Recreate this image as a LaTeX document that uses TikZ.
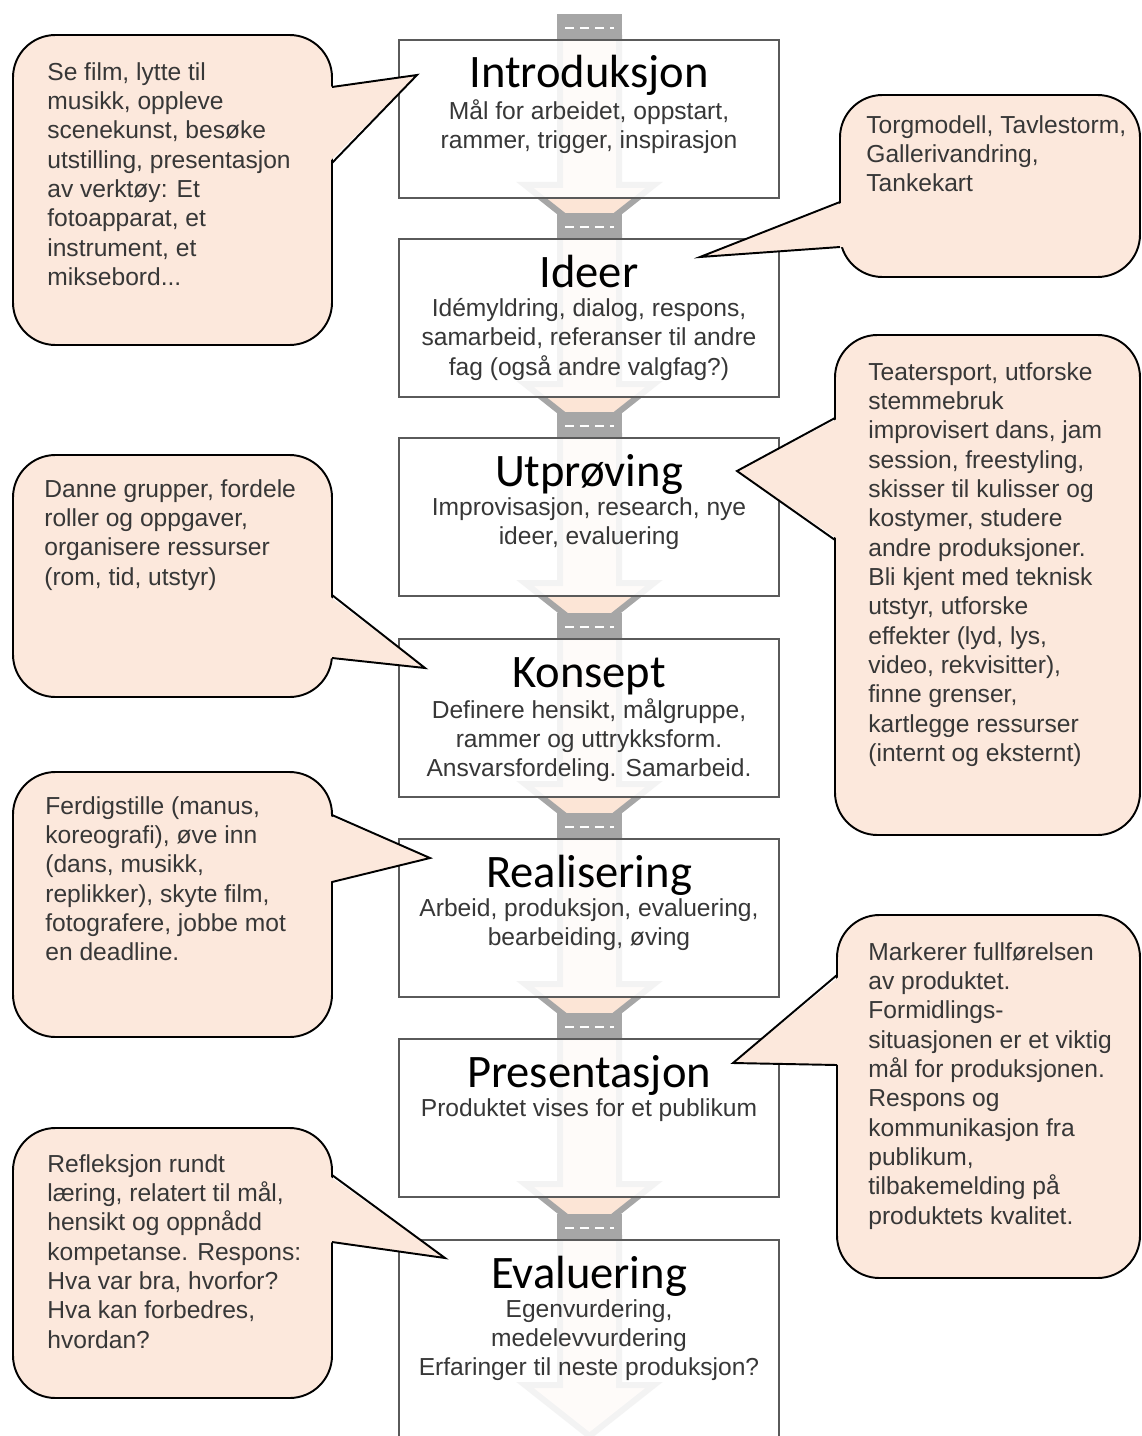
\documentclass[tikz,border=0pt]{standalone}
\usepackage{fontspec}
\setmainfont{Liberation Sans}
\newfontfamily\titlefont{Carlito}
\usetikzlibrary{positioning}
\definecolor{peach}{RGB}{252,229,214}
\definecolor{bubblefill}{RGB}{252,232,220}
\definecolor{shaftgray}{RGB}{166,166,166}
\definecolor{boxline}{RGB}{90,90,90}
\definecolor{bodytext}{RGB}{55,55,55}

\begin{document}
\begin{tikzpicture}[x=0.02cm,y=-0.02cm,
    stagebox/.style={draw=boxline, line width=0.8pt, fill=white, fill opacity=0.87, minimum width=7.6cm, minimum height=3.16cm, inner sep=0pt},
    stagetitle/.style={font=\titlefont\fontsize{26.5pt}{30pt}\selectfont, anchor=base, inner sep=0pt},
    stagetext/.style={font=\fontsize{14pt}{16.7pt}\selectfont, text=bodytext, align=center, anchor=north, inner sep=0pt},
    shaftarrow/.style={fill=peach, draw=shaftgray, line width=0.12cm, line join=miter},
    bubble/.style={draw=black, line width=1.1pt, fill=bubblefill, rounded corners=0.85cm},
    bubbleline/.style={draw=black, line width=1.1pt, line join=miter},
    bubbletext/.style={font=\fontsize{14pt}{16.7pt}\selectfont, text=bodytext, align=left, anchor=north west, inner sep=0pt}]
    \useasboundingbox (0,0) rectangle (1142,1436);

    % Background arrow
    \foreach \T in {40,239,438,639,839,1039,1240}
        \draw[shaftarrow] (560,\T-2) -- (619,\T-2) -- (619,\T+145) -- (654,\T+145) -- (589.5,\T+196) -- (525,\T+145) -- (560,\T+145) -- cycle;
    \foreach \T in {40,239,438,639,839,1039,1240} {
        \fill[shaftgray] (557,\T-26) rectangle (622,\T);
        \draw[white, line width=1.2pt, dash pattern=on 5pt off 3.5pt] (565,\T-12) -- (614,\T-12);
    }

    % Stages
    \node[stagebox] (intro) at (589,119) {};
    \node[stagetitle] (introtitle) at (589,88) {Introduksjon};
    \node[stagetext] (introtext) at (589,99) {Mål for arbeidet, oppstart,\\rammer, trigger, inspirasjon};

    \node[stagebox] (ideer) at (589,318) {};
    \node[stagetitle] (ideertitle) at (589,287) {Ideer};
    \node[stagetext] (ideertext) at (589,298) {Idémyldring, dialog, respons,\\samarbeid, referanser til andre\\fag (også andre valgfag?)};

    \node[stagebox] (utprov) at (589,517) {};
    \node[stagetitle] (utprovtitle) at (589,486) {Utprøving};
    \node[stagetext] (utprovtext) at (589,497) {Improvisasjon, research, nye\\ideer, evaluering};

    \node[stagebox] (konsept) at (589,718) {};
    \node[stagetitle] (konsepttitle) at (589,687) {Konsept};
    \node[stagetext] (konsepttext) at (589,698) {Definere hensikt, målgruppe,\\rammer og uttrykksform.\\Ansvarsfordeling. Samarbeid.};

    \node[stagebox] (real) at (589,918) {};
    \node[stagetitle] (realtitle) at (589,887) {Realisering};
    \node[stagetext] (realtext) at (589,898) {Arbeid, produksjon, evaluering,\\bearbeiding, øving};

    \node[stagebox] (pres) at (589,1118) {};
    \node[stagetitle] (prestitle) at (589,1087) {Presentasjon};
    \node[stagetext] (prestext) at (589,1098) {Produktet vises for et publikum};

    \node[stagebox, minimum height=4.2cm] (eval) at (589,1345) {};
    \node[stagetitle] (evaltitle) at (589,1288) {Evaluering};
    \node[stagetext] (evaltext) at (589,1299) {Egenvurdering,\\medelevvurdering\\Erfaringer til neste produksjon?};

    % Callouts, left side
    \draw[bubble] (13,35) rectangle (332,345);
    \fill[bubblefill] (328,87) -- (417,75) -- (328,163) -- cycle;
    \draw[bubbleline] (332,87) -- (417,75) -- (332,163);
    \node[bubbletext] (introtips) at (47,62) {Se film, lytte til\\musikk, oppleve\\scenekunst, besøke\\utstilling, presentasjon\\av verktøy: Et\\fotoapparat, et\\instrument, et\\miksebord...};

    \draw[bubble] (13,455) rectangle (332,697);
    \fill[bubblefill] (328,595) -- (425,668) -- (328,658) -- cycle;
    \draw[bubbleline] (332,595) -- (425,668) -- (332,658);
    \node[bubbletext] (konsepttips) at (44,479) {Danne grupper, fordele\\roller og oppgaver,\\organisere ressurser\\(rom, tid, utstyr)};

    \draw[bubble] (13,772) rectangle (332,1037);
    \fill[bubblefill] (328,815) -- (430,858) -- (328,882) -- cycle;
    \draw[bubbleline] (332,815) -- (430,858) -- (332,882);
    \node[bubbletext] (realtips) at (45,796) {Ferdigstille (manus,\\koreografi), øve inn\\(dans, musikk,\\replikker), skyte film,\\fotografere, jobbe mot\\en deadline.};

    \draw[bubble] (13,1128) rectangle (332,1398);
    \fill[bubblefill] (328,1175) -- (445,1258) -- (328,1242) -- cycle;
    \draw[bubbleline] (332,1175) -- (445,1258) -- (332,1242);
    \node[bubbletext] (evaltips) at (47,1154) {Refleksjon rundt\\læring, relatert til mål,\\hensikt og oppnådd\\kompetanse. Respons:\\Hva var bra, hvorfor?\\Hva kan forbedres,\\hvordan?};

    % Callouts, right side
    \draw[bubble] (840,95) rectangle (1140,277);
    \fill[bubblefill] (844,202) -- (700,257) -- (844,247) -- cycle;
    \draw[bubbleline] (840,202) -- (700,257) -- (840,247);
    \node[bubbletext] (ideertips) at (866,115) {Torgmodell, Tavlestorm,\\Gallerivandring,\\Tankekart};

    \draw[bubble] (835,335) rectangle (1140,835);
    \fill[bubblefill] (839,418) -- (737,471) -- (839,540) -- cycle;
    \draw[bubbleline] (835,418) -- (737,471) -- (835,540);
    \node[bubbletext] (utprovtips) at (868,362) {Teatersport, utforske\\stemmebruk\\improvisert dans, jam\\session, freestyling,\\skisser til kulisser og\\kostymer, studere\\andre produksjoner.\\Bli kjent med teknisk\\utstyr, utforske\\effekter (lyd, lys,\\video, rekvisitter),\\finne grenser,\\kartlegge ressurser\\(internt og eksternt)};

    \draw[bubble] (837,915) rectangle (1140,1278);
    \fill[bubblefill] (841,975) -- (733,1063) -- (841,1065) -- cycle;
    \draw[bubbleline] (837,975) -- (733,1063) -- (837,1065);
    \node[bubbletext] (prestips) at (868,942) {Markerer fullførelsen\\av produktet.\\Formidlings-\\situasjonen er et viktig\\mål for produksjonen.\\Respons og\\kommunikasjon fra\\publikum,\\tilbakemelding på\\produktets kvalitet.};
\end{tikzpicture}
\end{document}
